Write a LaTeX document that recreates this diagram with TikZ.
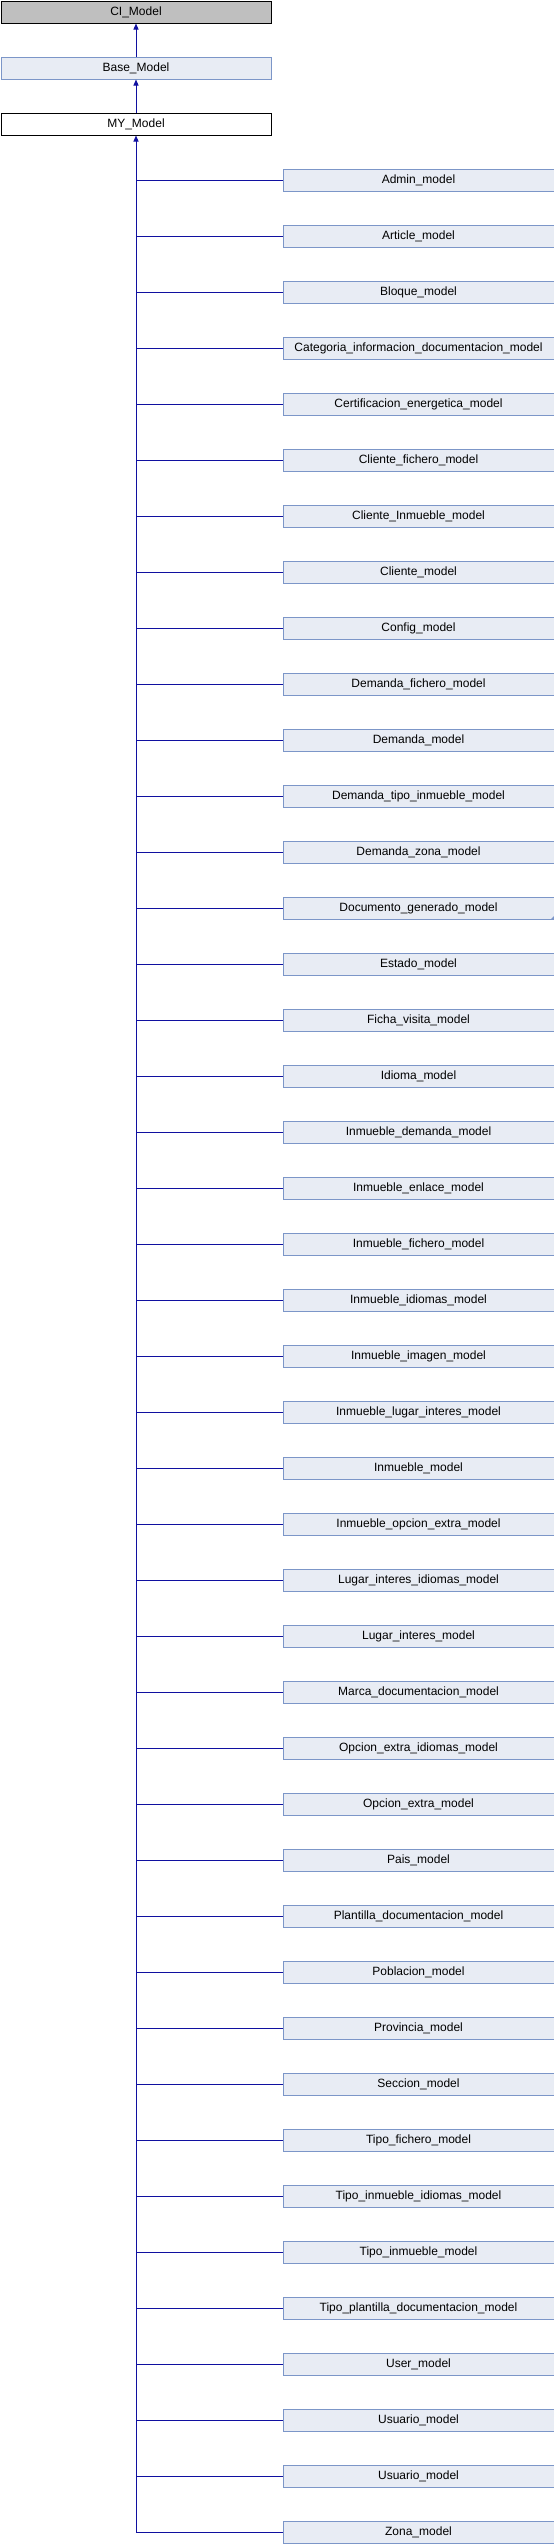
\documentclass[tikz,border=0pt]{standalone}
\usepackage{fontspec}
\setmainfont{Liberation Sans}
\usetikzlibrary{arrows.meta}
\definecolor{boxline}{RGB}{124,150,200}
\definecolor{boxfill}{RGB}{232,236,244}
\definecolor{inhline}{RGB}{16,16,160}

\begin{document}
\begin{tikzpicture}[x=1pt,y=-1pt,font=\fontsize{12}{14}\selectfont,
  cls/.style={draw=boxline,fill=boxfill,line width=1pt,minimum width=271pt,minimum height=22pt,inner sep=0pt,anchor=north west},
  inh/.style={draw=inhline,line width=1pt},
  inharrow/.style={inh,-{Triangle[length=6pt,width=5pt]}}]

\useasboundingbox (0,0) rectangle (554,2544);

\node[cls,draw=black,fill=black!25,minimum width=270pt] (ci) at (0.5,0.5) {CI\_Model};
\node[cls,minimum width=270pt] (base) at (0.5,56.5) {Base\_Model};
\node[cls,draw=black,fill=white,minimum width=270pt] (my) at (0.5,112.5) {MY\_Model};

\draw[inharrow] (base) -- (ci);
\draw[inharrow] (my) -- (base);

% derived models
\foreach \name [count=\i] in {Admin\_model,Article\_model,Bloque\_model,
  Categoria\_informacion\_documentacion\_model,Certificacion\_energetica\_model,
  Cliente\_fichero\_model,Cliente\_Inmueble\_model,Cliente\_model,Config\_model,
  Demanda\_fichero\_model,Demanda\_model,Demanda\_tipo\_inmueble\_model,
  Demanda\_zona\_model,Documento\_generado\_model,Estado\_model,
  Ficha\_visita\_model,Idioma\_model,Inmueble\_demanda\_model,
  Inmueble\_enlace\_model,Inmueble\_fichero\_model,Inmueble\_idiomas\_model,
  Inmueble\_imagen\_model,Inmueble\_lugar\_interes\_model,Inmueble\_model,
  Inmueble\_opcion\_extra\_model,Lugar\_interes\_idiomas\_model,
  Lugar\_interes\_model,Marca\_documentacion\_model,Opcion\_extra\_idiomas\_model,
  Opcion\_extra\_model,Pais\_model,Plantilla\_documentacion\_model,
  Poblacion\_model,Provincia\_model,Seccion\_model,Tipo\_fichero\_model,
  Tipo\_inmueble\_idiomas\_model,Tipo\_inmueble\_model,
  Tipo\_plantilla\_documentacion\_model,User\_model,Usuario\_model,
  Usuario\_model,Zona\_model}
  \node[cls] (c\i) at (282.5,{168.5+56*(\i-1)}) {\name};

\foreach \i in {1,...,43}
  \draw[inh] (c\i.west) -- (c\i.west -| my.south);
\draw[inharrow] (c43.west -| my.south) -- (my.south);

% more marker
\fill[boxline] (c14.south east) -- ++(-4,0) -- ++(4,-4) -- cycle;

\end{tikzpicture}
\end{document}
